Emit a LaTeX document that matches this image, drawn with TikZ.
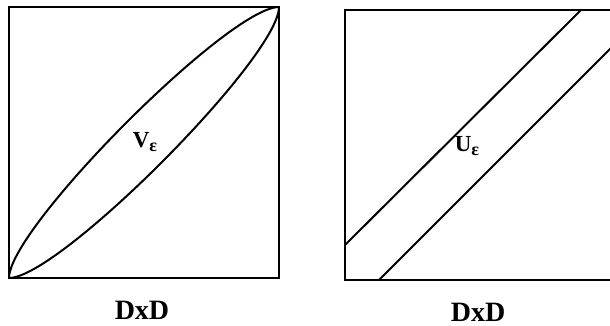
\documentclass[tikz,border=0pt]{standalone}
\usepackage{fontspec}
\setmainfont{Liberation Serif}
\begin{document}
\begin{tikzpicture}[x=1pt,y=-1pt,
  frame/.style={line width=2.4pt},
  curve/.style={line width=2pt},
  lbl/.style={inner sep=0pt,font=\bfseries\fontsize{28}{28}\selectfont},
  setlbl/.style={inner sep=0pt,font=\bfseries\fontsize{23}{23}\selectfont}]
\useasboundingbox (0,0) rectangle (610,326);
\clip (0,0) rectangle (610,326);
% left square
\coordinate (LA) at (9,278);
\coordinate (LB) at (279,7);
\draw[frame] (9,7) rectangle (279,278);
\draw[curve] (LA) .. controls (9,228) and (229,7) .. (LB);
\draw[curve] (LA) .. controls (59,278) and (279,57) .. (LB);
\node[setlbl] (V) at (145,142) {V\raisebox{-0.45ex}{\fontsize{18}{18}\selectfont ε}};
\node[lbl] (L1) at (142,310) {DxD};
% right square
\draw[frame] (345,10) rectangle (614,280);
\coordinate (U1) at (345,245);
\coordinate (U2) at (581,10);
\coordinate (W1) at (379,280);
\coordinate (W2) at (614,45);
\draw[curve] (U1) -- (U2);
\draw[curve] (W1) -- (W2);
\node[setlbl] (U) at (467,146) {U\raisebox{-0.45ex}{\fontsize{18}{18}\selectfont ε}};
\node[lbl] (L2) at (478,312) {DxD};
\end{tikzpicture}
\end{document}
